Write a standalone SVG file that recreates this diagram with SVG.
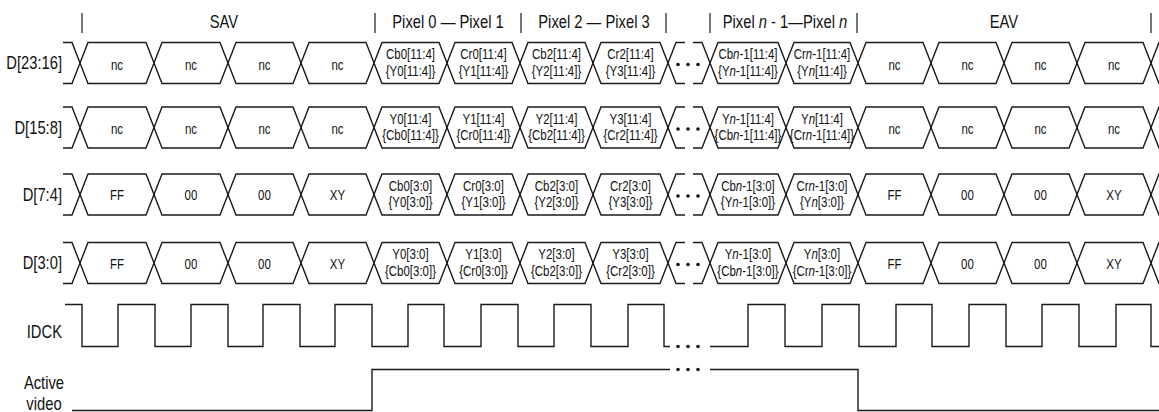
<svg xmlns="http://www.w3.org/2000/svg" xmlns:xlink="http://www.w3.org/1999/xlink" width="1159" height="412" viewBox="0 0 1159 412">
<style>
text{font-family:"Liberation Sans",Arial,sans-serif;fill:#111}
.lbl{font-size:18px;text-anchor:end}
.hdr{font-size:18px;text-anchor:middle}
.av{font-size:18px;text-anchor:middle}
.c{font-size:14px;text-anchor:middle}
.w{fill:none;stroke:#1a1a1a;stroke-width:1.4;stroke-linejoin:miter}
.bar{stroke:#1a1a1a;stroke-width:1.2}
.dot{fill:#111}
.i{font-style:italic}
</style>
<defs>
<g id="bus">
<path class="w" d="M63,-20.5 H72 L80,0 L88,20.5 H146 L154,0 L162,-20.5 H220 L228,0 L236,20.5 H293 L301,0 L309,-20.5 H366 L374,0 L382,20.5 H439 L447,0 L455,-20.5 H512 L520,0 L528,20.5 H585 L593,0 L601,-20.5 H660 L668,0 L676,20.5 H685"/>
<path class="w" d="M63,20.5 H72 L80,0 L88,-20.5 H146 L154,0 L162,20.5 H220 L228,0 L236,-20.5 H293 L301,0 L309,20.5 H366 L374,0 L382,-20.5 H439 L447,0 L455,20.5 H512 L520,0 L528,-20.5 H585 L593,0 L601,20.5 H660 L668,0 L676,-20.5 H685"/>
<path class="w" d="M693,-20.5 H702 L710,0 L718,20.5 H778 L786,0 L794,-20.5 H850 L858,0 L866,20.5 H923 L931,0 L939,-20.5 H996 L1004,0 L1012,20.5 H1069 L1077,0 L1085,-20.5 H1143 L1151,0 L1159,20.5 H1170"/>
<path class="w" d="M693,20.5 H702 L710,0 L718,-20.5 H778 L786,0 L794,20.5 H850 L858,0 L866,-20.5 H923 L931,0 L939,20.5 H996 L1004,0 L1012,-20.5 H1069 L1077,0 L1085,20.5 H1143 L1151,0 L1159,-20.5 H1170"/>
<circle class="dot" cx="678" cy="1.5" r="1.8"/>
<circle class="dot" cx="688" cy="1.5" r="1.8"/>
<circle class="dot" cx="698" cy="1.5" r="1.8"/>
</g>
</defs>
<rect width="1159" height="412" fill="#fff"/>

<g id="header">
<line class="bar" x1="82" y1="13" x2="82" y2="33"/>
<line class="bar" x1="375" y1="13" x2="375" y2="33"/>
<line class="bar" x1="521" y1="13" x2="521" y2="33"/>
<line class="bar" x1="666" y1="13" x2="666" y2="33"/>
<line class="bar" x1="710" y1="13" x2="710" y2="33"/>
<line class="bar" x1="857" y1="13" x2="857" y2="33"/>
<line class="bar" x1="1151" y1="13" x2="1151" y2="33"/>
<g transform="scale(.82 1)">
<text class="hdr" x="273.17" y="28">SAV</text>
<text class="hdr" x="546.34" y="28">Pixel 0 — Pixel 1</text>
<text class="hdr" x="724.39" y="28">Pixel 2 — Pixel 3</text>
<text class="hdr" x="957.32" y="28">Pixel <tspan class="i">n</tspan> - 1—Pixel <tspan class="i">n</tspan></text>
<text class="hdr" x="1224.39" y="28">EAV</text>
</g>
</g>

<g id="d23_16">
<use xlink:href="#bus" href="#bus" y="63"/>
<g transform="scale(.82 1)">
<text class="lbl" x="75.61" y="69.5">D[23:16]</text>
<text class="c" x="142.68" y="70">nc</text>
<text class="c" x="232.93" y="70">nc</text>
<text class="c" x="322.56" y="70">nc</text>
<text class="c" x="411.59" y="70">nc</text>
<text class="c" x="500.61" y="59.5">Cb0[11:4]</text><text class="c" x="500.61" y="76">{Y0[11:4]}</text>
<text class="c" x="589.63" y="59.5">Cr0[11:4]</text><text class="c" x="589.63" y="76">{Y1[11:4]}</text>
<text class="c" x="678.66" y="59.5">Cb2[11:4]</text><text class="c" x="678.66" y="76">{Y2[11:4]}</text>
<text class="c" x="768.90" y="59.5">Cr2[11:4]</text><text class="c" x="768.90" y="76">{Y3[11:4]}</text>
<text class="c" x="912.20" y="59.5">Cb<tspan class="i">n</tspan>-1[11:4]</text><text class="c" x="912.20" y="76">{Y<tspan class="i">n</tspan>-1[11:4]}</text>
<text class="c" x="1002.44" y="59.5">Cr<tspan class="i">n</tspan>-1[11:4]</text><text class="c" x="1002.44" y="76">{Y<tspan class="i">n</tspan>[11:4]}</text>
<text class="c" x="1090.85" y="70">nc</text>
<text class="c" x="1179.88" y="70">nc</text>
<text class="c" x="1268.90" y="70">nc</text>
<text class="c" x="1358.54" y="70">nc</text>
</g>
</g>

<g id="d15_8">
<use xlink:href="#bus" href="#bus" y="127.5"/>
<g transform="scale(.82 1)">
<text class="lbl" x="75.61" y="134">D[15:8]</text>
<text class="c" x="142.68" y="134.5">nc</text>
<text class="c" x="232.93" y="134.5">nc</text>
<text class="c" x="322.56" y="134.5">nc</text>
<text class="c" x="411.59" y="134.5">nc</text>
<text class="c" x="500.61" y="124">Y0[11:4]</text><text class="c" x="500.61" y="140.5">{Cb0[11:4]}</text>
<text class="c" x="589.63" y="124">Y1[11:4]</text><text class="c" x="589.63" y="140.5">{Cr0[11:4]}</text>
<text class="c" x="678.66" y="124">Y2[11:4]</text><text class="c" x="678.66" y="140.5">{Cb2[11:4]}</text>
<text class="c" x="768.90" y="124">Y3[11:4]</text><text class="c" x="768.90" y="140.5">{Cr2[11:4]}</text>
<text class="c" x="912.20" y="124">Y<tspan class="i">n</tspan>-1[11:4]</text><text class="c" x="912.20" y="140.5">{Cb<tspan class="i">n</tspan>-1[11:4]}</text>
<text class="c" x="1002.44" y="124">Y<tspan class="i">n</tspan>[11:4]</text><text class="c" x="1002.44" y="140.5">{Cr<tspan class="i">n</tspan>-1[11:4]}</text>
<text class="c" x="1090.85" y="134.5">nc</text>
<text class="c" x="1179.88" y="134.5">nc</text>
<text class="c" x="1268.90" y="134.5">nc</text>
<text class="c" x="1358.54" y="134.5">nc</text>
</g>
</g>

<g id="d7_4">
<use xlink:href="#bus" href="#bus" y="194.5"/>
<g transform="scale(.82 1)">
<text class="lbl" x="75.61" y="201">D[7:4]</text>
<text class="c" x="142.68" y="200.5">FF</text>
<text class="c" x="232.93" y="200.5">00</text>
<text class="c" x="322.56" y="200.5">00</text>
<text class="c" x="411.59" y="200.5">XY</text>
<text class="c" x="500.61" y="191">Cb0[3:0]</text><text class="c" x="500.61" y="207.5">{Y0[3:0]}</text>
<text class="c" x="589.63" y="191">Cr0[3:0]</text><text class="c" x="589.63" y="207.5">{Y1[3:0]}</text>
<text class="c" x="678.66" y="191">Cb2[3:0]</text><text class="c" x="678.66" y="207.5">{Y2[3:0]}</text>
<text class="c" x="768.90" y="191">Cr2[3:0]</text><text class="c" x="768.90" y="207.5">{Y3[3:0]}</text>
<text class="c" x="912.20" y="191">Cb<tspan class="i">n</tspan>-1[3:0]</text><text class="c" x="912.20" y="207.5">{Y<tspan class="i">n</tspan>-1[3:0]}</text>
<text class="c" x="1002.44" y="191">Cr<tspan class="i">n</tspan>-1[3:0]</text><text class="c" x="1002.44" y="207.5">{Y<tspan class="i">n</tspan>[3:0]}</text>
<text class="c" x="1090.85" y="200.5">FF</text>
<text class="c" x="1179.88" y="200.5">00</text>
<text class="c" x="1268.90" y="200.5">00</text>
<text class="c" x="1358.54" y="200.5">XY</text>
</g>
</g>

<g id="d3_0">
<use xlink:href="#bus" href="#bus" y="263"/>
<g transform="scale(.82 1)">
<text class="lbl" x="75.61" y="269.5">D[3:0]</text>
<text class="c" x="142.68" y="269">FF</text>
<text class="c" x="232.93" y="269">00</text>
<text class="c" x="322.56" y="269">00</text>
<text class="c" x="411.59" y="269">XY</text>
<text class="c" x="500.61" y="259.5">Y0[3:0]</text><text class="c" x="500.61" y="276">{Cb0[3:0]}</text>
<text class="c" x="589.63" y="259.5">Y1[3:0]</text><text class="c" x="589.63" y="276">{Cr0[3:0]}</text>
<text class="c" x="678.66" y="259.5">Y2[3:0]</text><text class="c" x="678.66" y="276">{Cb2[3:0]}</text>
<text class="c" x="768.90" y="259.5">Y3[3:0]</text><text class="c" x="768.90" y="276">{Cr2[3:0]}</text>
<text class="c" x="912.20" y="259.5">Y<tspan class="i">n</tspan>-1[3:0]</text><text class="c" x="912.20" y="276">{Cb<tspan class="i">n</tspan>-1[3:0]}</text>
<text class="c" x="1002.44" y="259.5">Y<tspan class="i">n</tspan>[3:0]</text><text class="c" x="1002.44" y="276">{Cr<tspan class="i">n</tspan>-1[3:0]}</text>
<text class="c" x="1090.85" y="269">FF</text>
<text class="c" x="1179.88" y="269">00</text>
<text class="c" x="1268.90" y="269">00</text>
<text class="c" x="1358.54" y="269">XY</text>
</g>
</g>

<g id="idck">
<text class="lbl" transform="scale(.82 1)" x="75.61" y="338">IDCK</text>
<path class="w" d="M65,304.5 H82 V346.5 H118 V304.5 H155 V346.5 H191 V304.5 H228 V346.5 H263 V304.5 H300 V346.5 H335 V304.5 H372 V346.5 H408 V304.5 H444 V346.5 H481 V304.5 H518 V346.5 H554 V304.5 H591 V346.5 H628 V304.5 H664 V346.5 H670"/>
<path class="w" d="M710,346.5 H748 V304.5 H785 V346.5 H822 V304.5 H859 V346.5 H896 V304.5 H932 V346.5 H969 V304.5 H1006 V346.5 H1042 V304.5 H1079 V346.5 H1116 V304.5 H1151 V346.5 H1165"/>
<circle class="dot" cx="678" cy="346.5" r="1.8"/>
<circle class="dot" cx="688" cy="346.5" r="1.8"/>
<circle class="dot" cx="698" cy="346.5" r="1.8"/>
</g>

<g id="active_video">
<g transform="scale(.82 1)">
<text class="av" x="53.66" y="389">Active</text>
<text class="av" x="53.66" y="410">video</text>
</g>
<path class="w" d="M72,410.5 H372 V369.5 H670"/>
<path class="w" d="M710,369.5 H858 V410.5 H1165"/>
<circle class="dot" cx="678" cy="369.5" r="1.8"/>
<circle class="dot" cx="688" cy="369.5" r="1.8"/>
<circle class="dot" cx="698" cy="369.5" r="1.8"/>
</g>
</svg>
